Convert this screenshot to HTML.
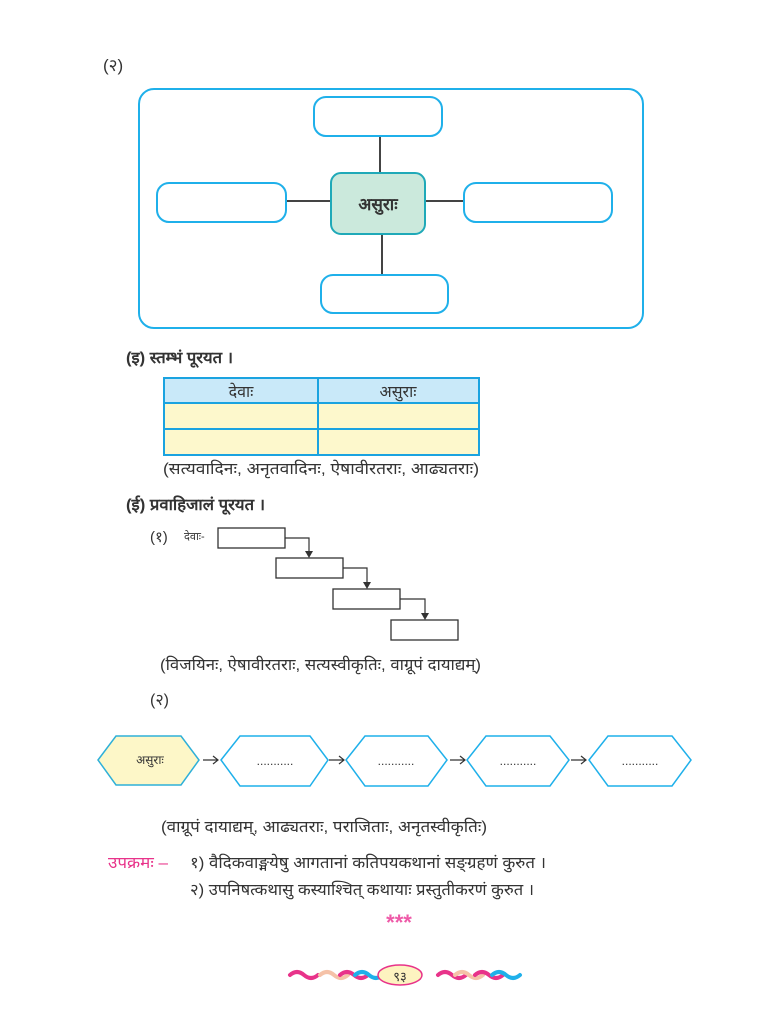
<!DOCTYPE html>
<html><head><meta charset="utf-8"><style>
html,body{margin:0;padding:0;background:#fff;}
svg{display:block;}
text{font-family:"Liberation Sans","Noto Sans CJK SC",sans-serif;fill:#333;}
</style></head><body>
<svg width="767" height="1024" viewBox="0 0 767 1024" xmlns="http://www.w3.org/2000/svg">
<text x="103" y="71" font-size="17">(२)</text>
<rect x="139" y="89" width="504" height="239" rx="15" fill="none" stroke="#1fb0ea" stroke-width="2"/>
<g stroke="#444" stroke-width="2">
<line x1="380" y1="136" x2="380" y2="173"/><line x1="382" y1="234" x2="382" y2="274"/>
<line x1="286" y1="201" x2="331" y2="201"/><line x1="425" y1="201" x2="464" y2="201"/>
</g>
<g fill="#fff" stroke="#1fb0ea" stroke-width="2">
<rect x="314" y="97" width="128" height="39" rx="12"/>
<rect x="157" y="183" width="129" height="39" rx="12"/>
<rect x="464" y="183" width="148" height="39" rx="12"/>
<rect x="321" y="275" width="127" height="38" rx="12"/>
</g>
<rect x="331" y="173" width="94" height="61" rx="10" fill="#cbe9dc" stroke="#1fa9b8" stroke-width="2"/>
<text x="378" y="210" font-size="17" text-anchor="middle" font-weight="bold">असुराः</text>

<text x="126" y="363" font-size="16" font-weight="bold" textLength="107" lengthAdjust="spacingAndGlyphs">(इ) स्तम्भं पूरयत ।</text>
<rect x="164" y="378" width="315" height="25" fill="#c9e9f9"/>
<rect x="164" y="403" width="315" height="52" fill="#fdf8cc"/>
<g stroke="#1aa3e0" stroke-width="2" fill="none">
<rect x="164" y="378" width="315" height="77"/>
<line x1="164" y1="403" x2="479" y2="403"/><line x1="164" y1="429" x2="479" y2="429"/>
<line x1="318" y1="378" x2="318" y2="455"/>
</g>
<text x="241" y="397" font-size="16" text-anchor="middle">देवाः</text>
<text x="398" y="397" font-size="16" text-anchor="middle">असुराः</text>
<text x="163" y="474" font-size="16" textLength="316" lengthAdjust="spacingAndGlyphs">(सत्यवादिनः, अनृतवादिनः, ऐषावीरतराः, आढ्यतराः)</text>

<text x="126" y="510" font-size="16" font-weight="bold" textLength="139" lengthAdjust="spacingAndGlyphs">(ई) प्रवाहिजालं पूरयत ।</text>
<text x="150" y="542" font-size="15">(१)</text>
<text x="184" y="540" font-size="11">देवाः-</text>
<g fill="#fff" stroke="#333" stroke-width="1.3">
<rect x="218" y="528" width="67" height="20"/><rect x="276" y="558" width="67" height="20"/>
<rect x="333" y="589" width="67" height="20"/><rect x="391" y="620" width="67" height="20"/>
</g>
<g stroke="#333" stroke-width="1.2" fill="none">
<polyline points="285,538 309,538 309,553"/><polyline points="343,568 367,568 367,584"/><polyline points="400,599 425,599 425,615"/>
</g>
<g fill="#333"><polygon points="305,551 313,551 309,558"/><polygon points="363,582 371,582 367,589"/><polygon points="421,613 429,613 425,620"/></g>
<text x="160" y="670" font-size="16" textLength="321" lengthAdjust="spacingAndGlyphs">(विजयिनः, ऐषावीरतराः, सत्यस्वीकृतिः, वाग्रूपं दायाद्यम्)</text>
<text x="150" y="705" font-size="16">(२)</text>

<g stroke="#1fb0ea" stroke-width="1.5">
<polygon points="98,760 116,736 181,736 199,760 181,785 116,785" fill="#fdf7c8" stroke="#2fb0d8"/>
<polygon points="221,760 240,736 310,736 328,760 310,786 240,786" fill="#fff"/>
<polygon points="346,760 365,736 428,736 447,760 428,786 365,786" fill="#fff"/>
<polygon points="467,760 486,736 550,736 569,760 550,786 486,786" fill="#fff"/>
<polygon points="589,760 608,736 672,736 691,760 672,786 608,786" fill="#fff"/>
</g>
<text x="150" y="764" font-size="12" text-anchor="middle">असुराः</text>
<g font-size="12" text-anchor="middle"><text x="275" y="765">...........</text><text x="396" y="765">...........</text><text x="518" y="765">...........</text><text x="640" y="765">...........</text></g>
<g stroke="#333" stroke-width="1.2" fill="none">
<path d="M203,760 H218 M213,756 L218,760 L213,764"/>
<path d="M329,760 H344 M339,756 L344,760 L339,764"/>
<path d="M450,760 H465 M460,756 L465,760 L460,764"/>
<path d="M571,760 H586 M581,756 L586,760 L581,764"/>
</g>

<text x="161" y="832" font-size="16" textLength="326" lengthAdjust="spacingAndGlyphs">(वाग्रूपं दायाद्यम्, आढ्यतराः, पराजिताः, अनृतस्वीकृतिः)</text>
<text x="108" y="868" font-size="16" style="fill:#e8338a" textLength="60" lengthAdjust="spacingAndGlyphs">उपक्रमः –</text>
<text x="190" y="868" font-size="16" textLength="356" lengthAdjust="spacingAndGlyphs">१) वैदिकवाङ्मयेषु आगतानां कतिपयकथानां सङ्ग्रहणं कुरुत ।</text>
<text x="190" y="895" font-size="16" textLength="344" lengthAdjust="spacingAndGlyphs">२) उपनिषत्कथासु कस्याश्चित् कथायाः प्रस्तुतीकरणं कुरुत ।</text>
<text x="399" y="930" font-size="22" font-weight="bold" text-anchor="middle" style="fill:#ee5aa8">***</text>

<g fill="none" stroke-width="4" stroke-linecap="round">
<path d="M290,975 q7,-6 14,0 t14,0" stroke="#e8338a"/>
<path d="M320,975 q7,-6 14,0 t14,0" stroke="#f5c2a8"/>
<path d="M340,975 q7,-6 14,0 t14,0" stroke="#e8338a"/>
<path d="M355,975 q7,-6 14,0 t14,0" stroke="#1fb0ea"/>
<path d="M438,975 q7,-6 14,0 t14,0" stroke="#e8338a"/>
<path d="M455,975 q7,-6 14,0 t14,0" stroke="#f5c2a8"/>
<path d="M475,975 q7,-6 14,0 t14,0" stroke="#e8338a"/>
<path d="M492,975 q7,-6 14,0 t14,0" stroke="#1fb0ea"/>
</g>
<ellipse cx="400" cy="975" rx="22" ry="10" fill="#fdf3c0" stroke="#e8338a" stroke-width="1.5"/>
<text x="400" y="981" font-size="13" text-anchor="middle">९३</text>
</svg>
</body></html>
